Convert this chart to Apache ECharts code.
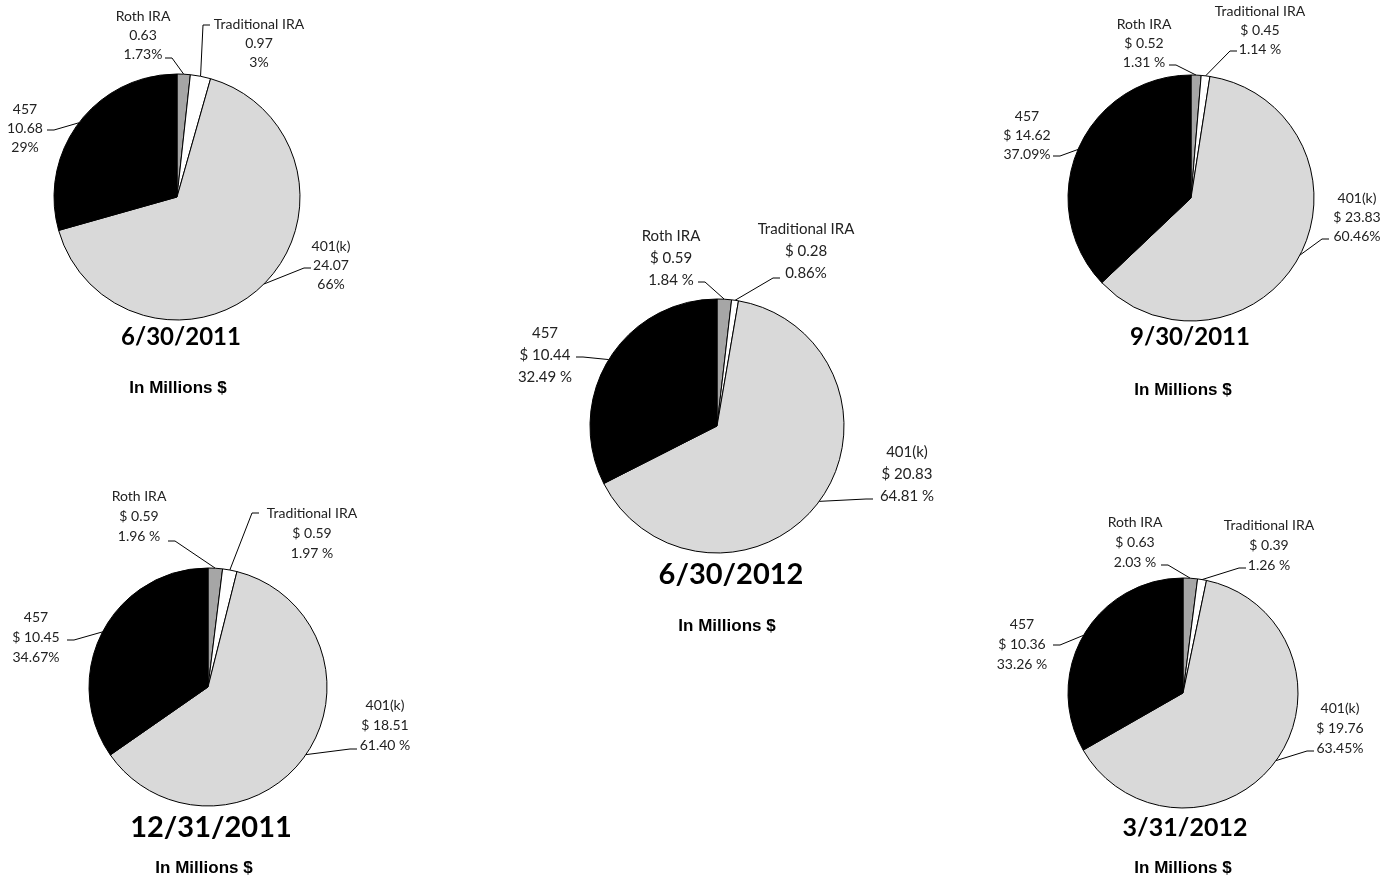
<!DOCTYPE html>
<html>
<head>
<meta charset="utf-8">
<script src="https://cdn.jsdelivr.net/npm/echarts@6/dist/echarts.min.js"></script>
<style>
    html, body { margin: 0; padding: 0; background: #fff; }
    #main { width: 1393px; height: 880px; }
</style>
</head>
<body>
<div id="main"></div>
<script>
// data, in millions $, one entry per snapshot date
var dates = ['6/30/2011', '6/30/2012', '9/30/2011', '12/31/2011', '3/31/2012'];
var segments = ['Roth IRA', 'Traditional IRA', '401(k)', '457'];

var roth = [0.63, 0.59, 0.52, 0.59, 0.63];
var traditional = [0.97, 0.28, 0.45, 0.59, 0.39];
var k401 = [24.07, 20.83, 23.83, 18.51, 19.76];
var plan457 = [10.68, 10.44, 14.62, 10.45, 10.36];

// percent labels as printed on the chart
var rothPct = ['1.73%', '1.84 %', '1.31 %', '1.96 %', '2.03 %'];
var traditionalPct = ['3%', '0.86%', '1.14 %', '1.97 %', '1.26 %'];
var k401Pct = ['66%', '64.81 %', '60.46%', '61.40 %', '63.45%'];
var plan457Pct = ['29%', '32.49 %', '37.09%', '34.67%', '33.26 %'];

var dollarSign = [false, true, true, true, true];

// layout of each pie: center, radius, title
var layouts = [
    {c: [177, 197], r: 123, title: [181, 337, 24], sub: [178, 388], font: 14, lh: 19},
    {c: [717, 426], r: 127, title: [731, 575, 29], sub: [727, 626], font: 15, lh: 22},
    {c: [1191, 198], r: 123, title: [1190, 337, 24], sub: [1183, 390], font: 14, lh: 19},
    {c: [208, 687], r: 119, title: [211, 828, 29], sub: [204, 868], font: 14, lh: 20},
    {c: [1183, 693], r: 115, title: [1185, 828, 25], sub: [1183, 868], font: 14, lh: 20}
];

// label text center and leader line end, relative to the pie center
// order: Roth, Traditional, 401(k), 457
var labelOffsets = [
    [[-34, -162, -12, -139], [82, -154, 33, -172], [154, 68, 134, 71], [-152, -69, -130, -67]],
    [[-46, -168, -19, -144], [89, -175, 63, -148], [190, 48, 156, 73], [-172, -71, -141, -69]],
    [[-47, -155, -22, -133], [69, -168, 46, -147], [166, 19, 138, 41], [-164, -63, -138, -42]],
    [[-69, -171, -40, -146], [104, -154, 51, -174], [177, 38, 149, 62], [-172, -50, -141, -47]],
    [[-48, -151, -22, -128], [86, -148, 63, -125], [157, 35, 131, 58], [-161, -49, -130, -48]]
];

var colors = ['#a6a6a6', '#ffffff', '#d9d9d9', '#000000'];

var chart = echarts.init(document.getElementById('main'));

function makeSeries(i) {
    var L = layouts[i];
    var vals = [roth[i], traditional[i], k401[i], plan457[i]];
    var pcts = [rothPct[i], traditionalPct[i], k401Pct[i], plan457Pct[i]];
    var data = segments.map(function (name, j) {
        return {name: name, value: vals[j], itemStyle: {color: colors[j]}};
    });
    return {
        type: 'pie',
        name: dates[i],
        center: L.c,
        radius: L.r,
        startAngle: 90,
        clockwise: true,
        avoidLabelOverlap: false,
        animation: false,
        silent: true,
        itemStyle: {borderColor: '#000', borderWidth: 1},
        emphasis: {disabled: true},
        label: {
            show: true,
            position: 'outside',
            color: '#222',
            fontFamily: 'Lato, "Open Sans", sans-serif',
            fontSize: L.font,
            lineHeight: L.lh,
            formatter: function (p) {
                var v = p.value.toFixed(2);
                return p.name + '\n' + (dollarSign[i] ? '$ ' + v : v) + '\n' + pcts[p.dataIndex];
            }
        },
        labelLine: {show: true, length: 10, length2: 10, lineStyle: {color: '#000', width: 1}},
        labelLayout: function (params) {
            var o = labelOffsets[i][params.dataIndex];
            var cx = L.c[0], cy = L.c[1];
            var pts = params.labelLinePoints;
            var edge = pts ? pts[0] : [cx, cy - L.r];
            var attach = [cx + o[2], cy + o[3]];
            var dir = edge[0] > attach[0] ? 1 : -1;
            var elbow = [attach[0] + dir * 7, attach[1]];
            return {
                x: cx + o[0],
                y: cy + o[1],
                align: 'center',
                verticalAlign: 'middle',
                labelLinePoints: [edge, elbow, attach]
            };
        },
        data: data
    };
}

var series = [];
var graphics = [];
for (var i = 0; i < dates.length; i++) {
    series.push(makeSeries(i));
    var L = layouts[i];
    graphics.push({
        type: 'text',
        x: L.title[0],
        y: L.title[1],
        style: {
            text: dates[i],
            align: 'center',
            verticalAlign: 'middle',
            fill: '#000',
            font: 'bold ' + L.title[2] + 'px Lato, "Open Sans", sans-serif'
        }
    });
    graphics.push({
        type: 'text',
        x: L.sub[0],
        y: L.sub[1],
        style: {
            text: 'In Millions $',
            align: 'center',
            verticalAlign: 'middle',
            fill: '#000',
            font: 'bold 17px "Liberation Sans", Arial, sans-serif'
        }
    });
}

var option = {
    backgroundColor: '#ffffff',
    animation: false,
    graphic: graphics,
    series: series
};

chart.setOption(option);
</script>
</body>
</html>
